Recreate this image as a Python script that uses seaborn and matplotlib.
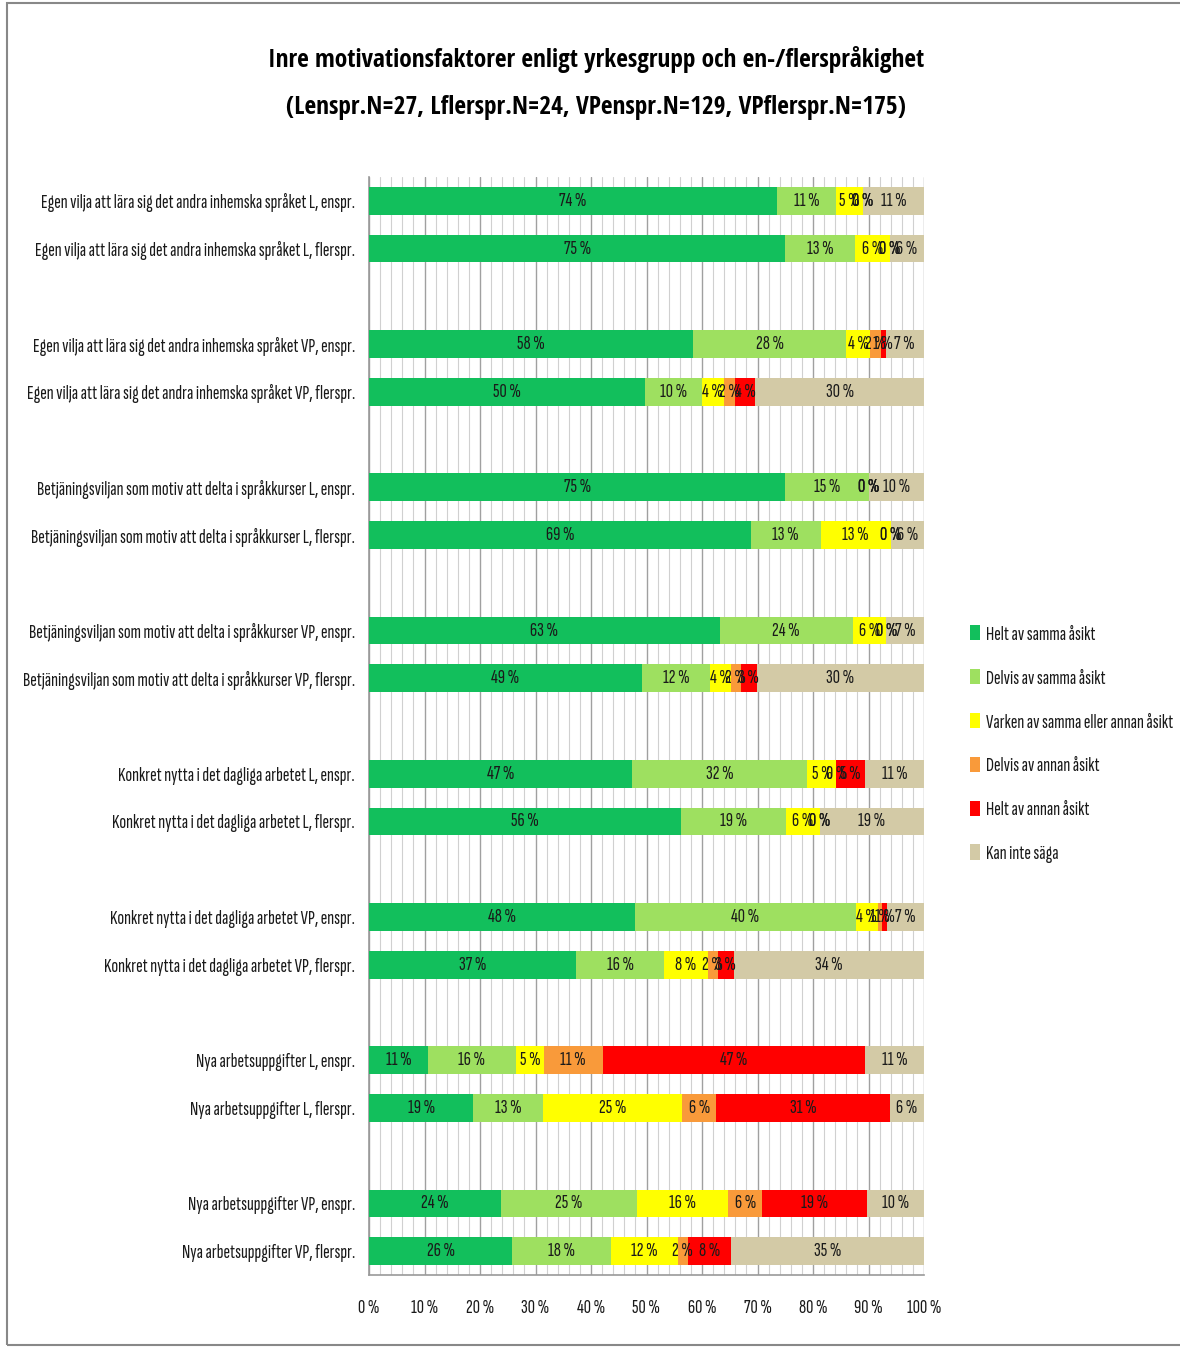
import pandas as pd
import matplotlib
matplotlib.use("Agg")
import matplotlib.pyplot as plt
from matplotlib.patches import Patch, Rectangle
from matplotlib.ticker import MultipleLocator, FuncFormatter
import seaborn as sns

titel = ("Inre motivationsfaktorer enligt yrkesgrupp och en-/flerspråkighet\n"
         "(Lenspr.N=27, Lflerspr.N=24, VPenspr.N=129, VPflerspr.N=175)")

fragor = [
    "Egen vilja att lära sig det andra inhemska språket L, enspr.",
    "Egen vilja att lära sig det andra inhemska språket L, flerspr.",
    "Egen vilja att lära sig det andra inhemska språket VP, enspr.",
    "Egen vilja att lära sig det andra inhemska språket VP, flerspr.",
    "Betjäningsviljan som motiv att delta i språkkurser L, enspr.",
    "Betjäningsviljan som motiv att delta i språkkurser L, flerspr.",
    "Betjäningsviljan som motiv att delta i språkkurser VP, enspr.",
    "Betjäningsviljan som motiv att delta i språkkurser VP, flerspr.",
    "Konkret nytta i det dagliga arbetet L, enspr.",
    "Konkret nytta i det dagliga arbetet L, flerspr.",
    "Konkret nytta i det dagliga arbetet VP, enspr.",
    "Konkret nytta i det dagliga arbetet VP, flerspr.",
    "Nya arbetsuppgifter L, enspr.",
    "Nya arbetsuppgifter L, flerspr.",
    "Nya arbetsuppgifter VP, enspr.",
    "Nya arbetsuppgifter VP, flerspr.",
]

kategorier = [
    "Helt av samma åsikt",
    "Delvis av samma åsikt",
    "Varken av samma eller annan åsikt",
    "Delvis av annan åsikt",
    "Helt av annan åsikt",
    "Kan inte säga",
]
farger = ["#12BF5C", "#9EE060", "#FFFF00", "#F99A3A", "#FF0000", "#D3CAA6"]

helt_samma = [73.6, 75.0, 58.4, 49.7, 75.0, 68.8, 63.2, 49.2,
              47.4, 56.3, 47.9, 37.3, 10.6, 18.8, 23.7, 25.8]
delvis_samma = [10.6, 12.6, 27.6, 10.3, 15.0, 12.6, 24.0, 12.2,
                31.6, 18.8, 39.8, 15.9, 15.9, 12.6, 24.6, 17.8]
varken = [4.8, 6.2, 4.3, 3.9, 0.0, 12.6, 6.0, 3.8,
          5.2, 6.2, 4.0, 7.9, 5.0, 25.0, 16.4, 12.0]
delvis_annan = [0.0, 0.0, 1.9, 2.0, 0.0, 0.0, 0.0, 1.8,
                0.0, 0.0, 0.8, 1.7, 10.6, 6.2, 6.2, 1.8]
helt_annan = [0.0, 0.0, 0.9, 3.7, 0.0, 0.0, 0.0, 2.9,
              5.2, 0.0, 0.8, 2.9, 47.3, 31.2, 18.8, 7.8]
kan_inte = [11.0, 6.2, 6.9, 30.4, 10.0, 6.0, 6.8, 30.1,
            10.6, 18.7, 6.7, 34.3, 10.6, 6.2, 10.3, 34.8]

serier = [helt_samma, delvis_samma, varken, delvis_annan, helt_annan, kan_inte]

sns.set_theme(style="white")
plt.rcParams["font.family"] = ["Sofia Sans Extra Condensed", "DejaVu Sans"]
plt.rcParams["text.color"] = "#1a1a1a"
plt.rcParams["xtick.color"] = "#1a1a1a"
plt.rcParams["ytick.color"] = "#1a1a1a"
storlek = 14.5

# tva staplar per grupp, en tom rad mellan grupperna
pos = [(i // 2) * 3 + i % 2 for i in range(len(fragor))]

df = pd.DataFrame(dict(zip(kategorier, serier)))
df["pos"] = pos
kum = df[kategorier].cumsum(axis=1)

fig = plt.figure(figsize=(11.8, 13.47), dpi=100)
ax = fig.add_axes([369 / 1180, 1 - 1275 / 1347, 555 / 1180, 1098 / 1347])

# staplad: rita kumulativa summor bakifran
for k in range(len(kategorier) - 1, -1, -1):
    sns.barplot(x=kum[kategorier[k]], y=df["pos"], orient="y", native_scale=True,
                color=farger[k], saturation=1, width=0.58, linewidth=0,
                errorbar=None, ax=ax, zorder=3)

for i, p in enumerate(pos):
    vanster = 0
    for k in range(len(kategorier)):
        v = serier[k][i]
        ax.text(vanster + v / 2, p, f"{v:.0f} %", ha="center", va="center",
                fontsize=storlek, zorder=5)
        vanster += v

ax.set_xlim(0, 100)
ax.set_ylim(22.5, -0.5)
ax.set_yticks(pos)
ax.set_yticklabels(fragor, fontsize=storlek)
ax.set_xlabel("")
ax.set_ylabel("")
ax.xaxis.set_major_locator(MultipleLocator(10))
ax.xaxis.set_minor_locator(MultipleLocator(2))
ax.xaxis.set_major_formatter(FuncFormatter(lambda x, _: f"{x:.0f} %"))
ax.tick_params(axis="x", which="major", labelsize=storlek, length=5, color="#999999", pad=12)
ax.tick_params(axis="x", which="minor", length=3, color="#bbbbbb")
ax.tick_params(axis="y", length=0, pad=10)
ax.grid(axis="x", which="major", color="#a0a0a0", linewidth=1.0, zorder=0)
ax.grid(axis="x", which="minor", color="#d0d0d0", linewidth=0.8, zorder=0)
ax.set_axisbelow(True)
for s in ["top", "right"]:
    ax.spines[s].set_visible(False)
for s in ["left", "bottom"]:
    ax.spines[s].set_color("#999999")
    ax.spines[s].set_linewidth(1.2)

rubrik = fig.text(0.505, 1 - 83 / 1347, titel, ha="center", va="center", fontsize=19,
                  family=["Open Sans Condensed", "DejaVu Sans"], fontweight="bold",
                  linespacing=2.2, color="#000000")
# anpassa rubrikens bredd till originalet (ca 657 px)
fig.canvas.draw()
bredd = rubrik.get_window_extent().width
rubrik.set_fontsize(19 * 657 / bredd)

handtag = [Patch(facecolor=c, edgecolor="none") for c in farger]
fig.legend(handtag, kategorier, loc="upper left", bbox_to_anchor=(962 / 1180, 1 - 617 / 1347),
           frameon=False, fontsize=storlek, handlelength=0.5, handleheight=0.8,
           handletextpad=0.3, labelspacing=1.25, borderaxespad=0)

fig.patches.append(Rectangle((7 / 1180, 2 / 1347), 1.2, 1 - 5 / 1347, transform=fig.transFigure,
                             fill=False, edgecolor="#888888", linewidth=1.5))

fig.savefig("out.png", dpi=100)
